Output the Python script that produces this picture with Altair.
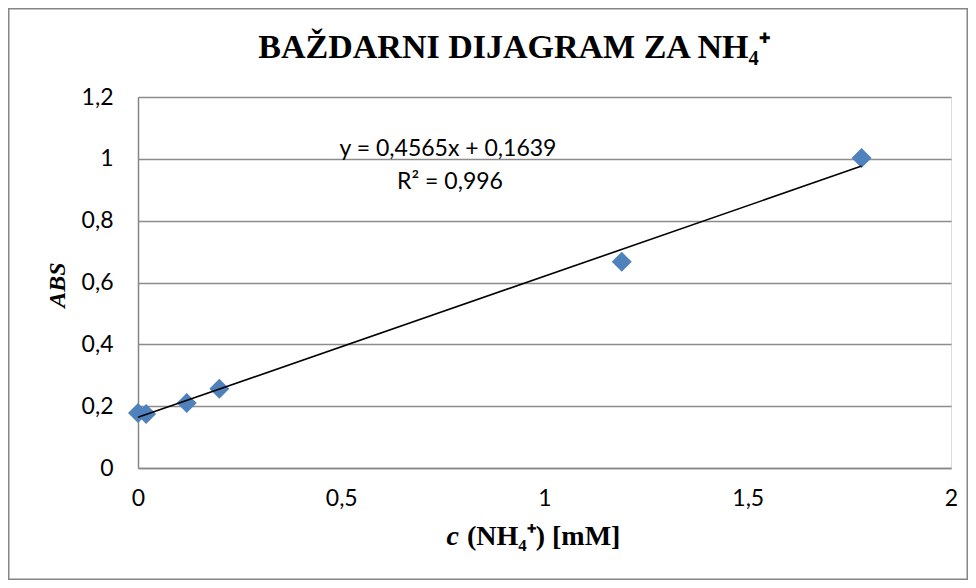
import altair as alt
import pandas as pd

# --- data ---
conc = [0.0, 0.02, 0.12, 0.20, 1.19, 1.78]
absorb = [0.178, 0.175, 0.210, 0.256, 0.667, 1.003]

slope = 0.4565
intercept = 0.1639
fit_x = [0.0, 1.78]

x_ticks = [0, 0.5, 1, 1.5, 2]
y_ticks = [0, 0.2, 0.4, 0.6, 0.8, 1.0, 1.2]

title_text = "BAŽDARNI DIJAGRAM ZA NH₄⁺"
eq_text = "y = 0,4565x + 0,1639"
r2_text = "R² = 0,996"
y_title = "ABS"
x_title_c = "c"
x_title_rest = "(NH₄⁺) [mM]"

W, H = 813, 371
PL, PT, PR, PB = 130, 89, 17, 112

pts = pd.DataFrame({"c": conc, "abs": absorb})
fit = pd.DataFrame({"c": fit_x, "abs": [slope * v + intercept for v in fit_x]})
one = pd.DataFrame({"k": [0]})

lbl = "replace(format(datum.value, '~g'), '.', ',')"
LF = "Lato"
LS = 23

xs = alt.Scale(domain=[0, 2], nice=False, zero=False)
ys = alt.Scale(domain=[0, 1.2], nice=False)

xax = alt.Axis(values=x_ticks, labelExpr=lbl, grid=False, ticks=False, domainColor="#868686",
               domainWidth=1.5, labelFont=LF, labelFontSize=LS, labelColor="#000000",
               labelPadding=19, labelFlush=False, title=None)
yax = alt.Axis(values=y_ticks, labelExpr=lbl, grid=True, gridColor="#8c8c8c", gridWidth=1.5,
               ticks=False, domainColor="#868686", domainWidth=1.5, labelFont=LF, labelFontSize=LS,
               labelColor="#000000", labelPadding=25, labelFlush=False, title=None)

base_pts = alt.Chart(pts).mark_point(shape="diamond", filled=True, size=400, color="#4F81BD",
                                     opacity=1).encode(
    x=alt.X("c:Q", scale=xs, axis=xax),
    y=alt.Y("abs:Q", scale=ys, axis=yax),
)

line = alt.Chart(fit).mark_line(color="#000000", strokeWidth=1.6).encode(
    x=alt.X("c:Q", scale=xs), y=alt.Y("abs:Q", scale=ys)
)

def txt(text, x, y, size, font, weight="normal", style="normal", align="center", angle=0,
        baseline="alphabetic"):
    kw = dict(text=text, font=font, fontSize=size, fontWeight=weight, fontStyle=style,
              align=align, baseline=baseline, color="#000000")
    if angle:
        kw["angle"] = angle
    return alt.Chart(one).mark_text(**kw).encode(x=alt.value(x), y=alt.value(y))

title = txt(title_text, 376, -39, 34, "Liberation Serif", weight="bold")
eq = txt(eq_text, 310, 59, LS, LF)
r2 = txt(r2_text, 312, 92, LS, LF)
ytitle = txt(y_title, -73, 188, 24, "Liberation Serif", weight="bold", style="italic", angle=270)
xtc = txt(x_title_c, 321, 448, 28, "Liberation Serif", weight="bold", style="italic", align="right")
xtr = txt(x_title_rest, 329, 448, 28, "Liberation Serif", weight="bold", align="left")

border = alt.Chart(one).mark_rect(fillOpacity=0, stroke="#868686", strokeWidth=1.5).encode(
    x=alt.value(-PL + 0.75), x2=alt.value(W + PR - 0.75),
    y=alt.value(-PT + 0.75), y2=alt.value(H + PB - 0.75),
)

chart = alt.layer(border, base_pts, line, title, eq, r2, ytitle, xtc, xtr).properties(
    width=W, height=H,
    autosize=alt.AutoSizeParams(type="none"),
    padding={"left": PL, "top": PT, "right": PR, "bottom": PB},
).configure_view(stroke=None).configure(background="#ffffff")

chart.save("out.html", embed_options={"renderer": "svg", "actions": False})
